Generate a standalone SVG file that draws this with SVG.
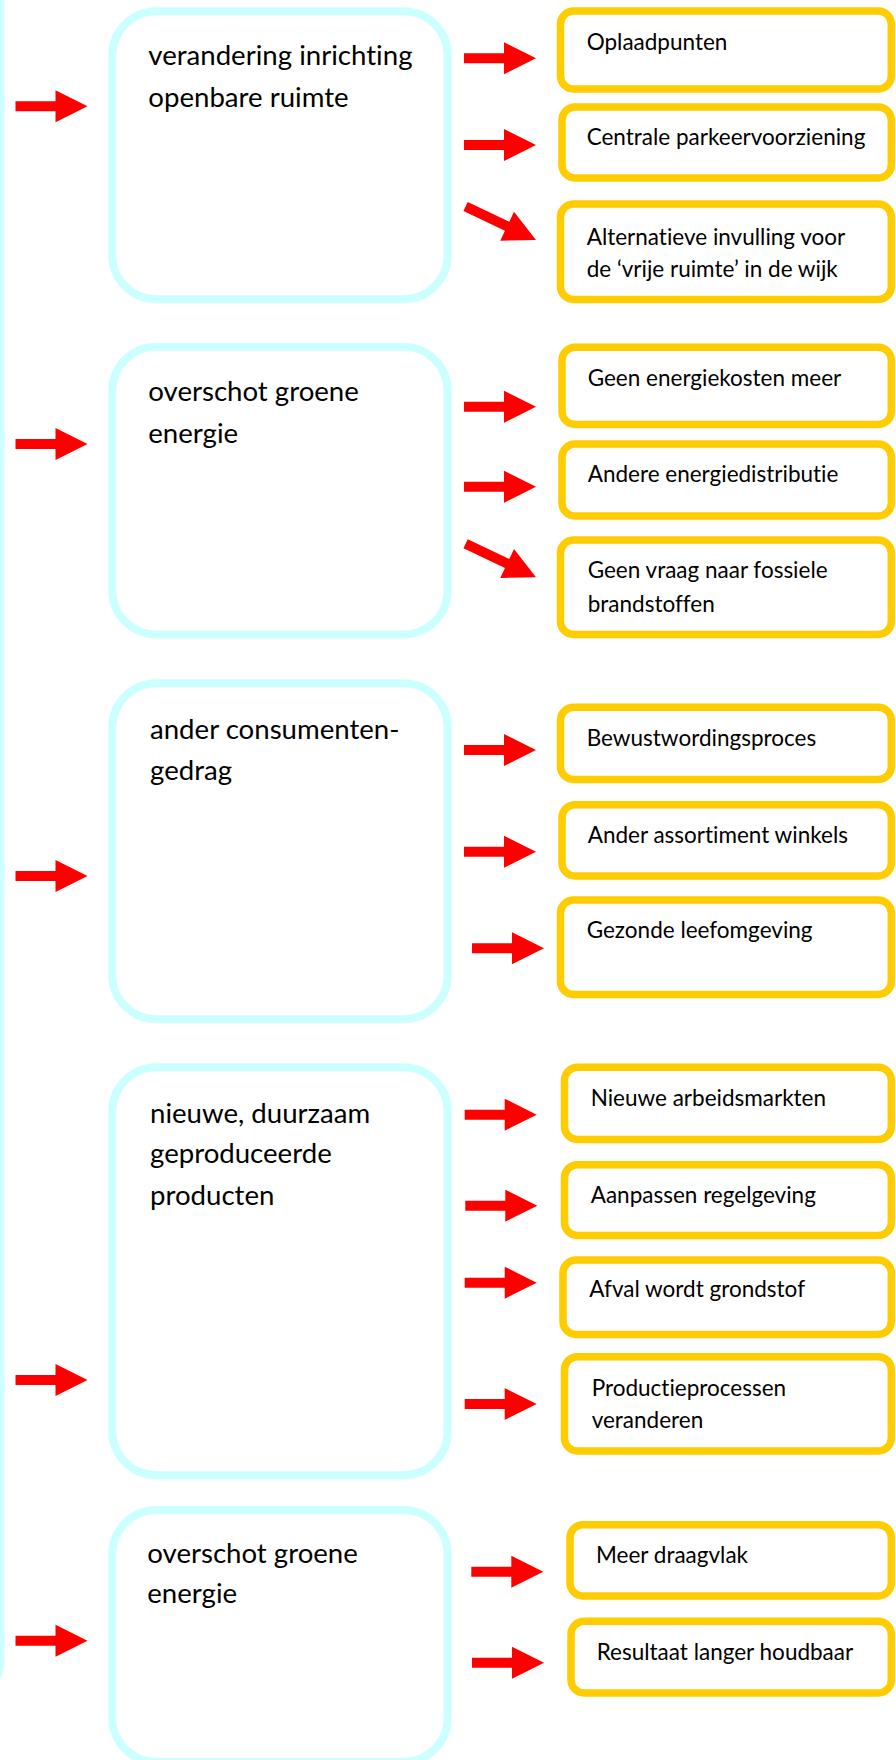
<svg xmlns="http://www.w3.org/2000/svg" width="896" height="1760" viewBox="0 0 896 1760">
<style>
.cy{fill:#fff;stroke:#CCFFFF;stroke-width:8}
.gd{fill:#fff;stroke:#FFCC00;stroke-width:7.5}
.t1{font-family:Lato,"Liberation Sans",sans-serif;font-size:27.6px;fill:#000;font-variant-ligatures:none;font-feature-settings:"liga" 0,"dlig" 0}
.t2{font-family:Lato,"Liberation Sans",sans-serif;font-size:22.5px;fill:#000;font-variant-ligatures:none;font-feature-settings:"liga" 0,"dlig" 0}
.ar{fill:#FF0000}
</style>
<defs>
<path id="arr" d="M-72,-5 H-32 V-16 L0,0 L-32,16 V5 H-72 Z"/>
<path id="arrL" d="M-78,-5 H-32 V-16 L0,0 L-32,16 V5 H-78 Z"/>
</defs>
<rect width="896" height="1760" fill="#fff"/>
<rect x="-400" y="-100" width="400.5" height="1804" rx="45" fill="none" stroke="#CCFFFF" stroke-width="8"/>

<g id="c1"><rect class="cy" x="112.3" y="11.3" width="335.3" height="288" rx="44"/>
<text class="t1" x="148.3" y="65">verandering inrichting</text><text class="t1" x="148.3" y="106.7">openbare ruimte</text></g>
<g id="c2"><rect class="cy" x="112.3" y="346.7" width="335.3" height="287.7" rx="44"/>
<text class="t1" x="148.3" y="401">overschot groene</text><text class="t1" x="148.3" y="442.7">energie</text></g>
<g id="c3"><rect class="cy" x="112.3" y="683.3" width="335.3" height="336" rx="44"/>
<text class="t1" x="150" y="739.3">ander consumenten-</text><text class="t1" x="150" y="780">gedrag</text></g>
<g id="c4"><rect class="cy" x="112.3" y="1067.3" width="335.3" height="408" rx="44"/>
<text class="t1" x="150" y="1122.7">nieuwe, duurzaam</text><text class="t1" x="150" y="1163.3">geproduceerde</text><text class="t1" x="150" y="1205">producten</text></g>
<g id="c5"><rect class="cy" x="112.3" y="1510" width="335.3" height="252" rx="44"/>
<text class="t1" x="147.3" y="1562.7">overschot groene</text><text class="t1" x="147.3" y="1603.3">energie</text></g>

<g id="g1"><rect class="gd" x="560.5" y="11" width="330.8" height="78" rx="13"/><text class="t2" x="586.7" y="50">Oplaadpunten</text></g>
<g id="g2"><rect class="gd" x="562" y="107" width="329.3" height="71" rx="13"/><text class="t2" x="586.7" y="145">Centrale parkeervoorziening</text></g>
<g id="g3"><rect class="gd" x="560.5" y="204" width="330.8" height="95.5" rx="13"/><text class="t2" x="586.7" y="245">Alternatieve invulling voor</text><text class="t2" x="586.7" y="276.7">de ‘vrije ruimte’ in de wijk</text></g>
<g id="g4"><rect class="gd" x="562" y="347.3" width="329.3" height="77.2" rx="13"/><text class="t2" x="587.7" y="386">Geen energiekosten meer</text></g>
<g id="g5"><rect class="gd" x="562" y="444" width="329.3" height="72" rx="13"/><text class="t2" x="587.7" y="481.7">Andere energiedistributie</text></g>
<g id="g6"><rect class="gd" x="560.5" y="540" width="330.8" height="94.5" rx="13"/><text class="t2" x="587.7" y="578.3">Geen vraag naar fossiele</text><text class="t2" x="587.7" y="611.7">brandstoffen</text></g>
<g id="g7"><rect class="gd" x="560.5" y="707.3" width="330.8" height="72.2" rx="13"/><text class="t2" x="586.7" y="746">Bewustwordingsproces</text></g>
<g id="g8"><rect class="gd" x="562" y="804.7" width="329.3" height="71.3" rx="13"/><text class="t2" x="587.7" y="842.7">Ander assortiment winkels</text></g>
<g id="g9"><rect class="gd" x="560.5" y="900" width="330.8" height="94.5" rx="13"/><text class="t2" x="586.7" y="938.3">Gezonde leefomgeving</text></g>
<g id="g10"><rect class="gd" x="564.5" y="1067.3" width="326.8" height="72.2" rx="13"/><text class="t2" x="590.7" y="1106">Nieuwe arbeidsmarkten</text></g>
<g id="g11"><rect class="gd" x="564.5" y="1164.7" width="326.8" height="70.8" rx="13"/><text class="t2" x="590.7" y="1203.3">Aanpassen regelgeving</text></g>
<g id="g12"><rect class="gd" x="563" y="1260" width="328.3" height="74.5" rx="13"/><text class="t2" x="589.3" y="1297.3">Afval wordt grondstof</text></g>
<g id="g13"><rect class="gd" x="564.5" y="1356.7" width="326.8" height="94.3" rx="13"/><text class="t2" x="591.7" y="1396">Productieprocessen</text><text class="t2" x="591.7" y="1428.3">veranderen</text></g>
<g id="g14"><rect class="gd" x="570" y="1524.7" width="321.3" height="71.3" rx="13"/><text class="t2" x="596" y="1562.7">Meer draagvlak</text></g>
<g id="g15"><rect class="gd" x="571" y="1621.3" width="320.3" height="71.7" rx="13"/><text class="t2" x="596.7" y="1660">Resultaat langer houdbaar</text></g>

<g id="connectors" class="ar">
<use href="#arr" x="87.5" y="106.3"/>
<use href="#arr" x="87.5" y="444"/>
<use href="#arr" x="87.5" y="876"/>
<use href="#arr" x="87.5" y="1380"/>
<use href="#arr" x="87.5" y="1640.7"/>
<use href="#arr" x="536" y="58.3"/>
<use href="#arr" x="536" y="145"/>
<use href="#arrL" transform="translate(536,240) rotate(25.5)"/>
<use href="#arr" x="536" y="406.7"/>
<use href="#arr" x="536" y="486.7"/>
<use href="#arrL" transform="translate(536,577.3) rotate(25.5)"/>
<use href="#arr" x="536" y="750"/>
<use href="#arr" x="536" y="851.7"/>
<use href="#arr" x="544" y="948.3"/>
<use href="#arr" x="536.7" y="1114.7"/>
<use href="#arr" x="537.3" y="1205.7"/>
<use href="#arr" x="536.7" y="1282.7"/>
<use href="#arr" x="536.7" y="1404"/>
<use href="#arr" x="543.3" y="1571.7"/>
<use href="#arr" x="544" y="1662.7"/>
</g>
</svg>
